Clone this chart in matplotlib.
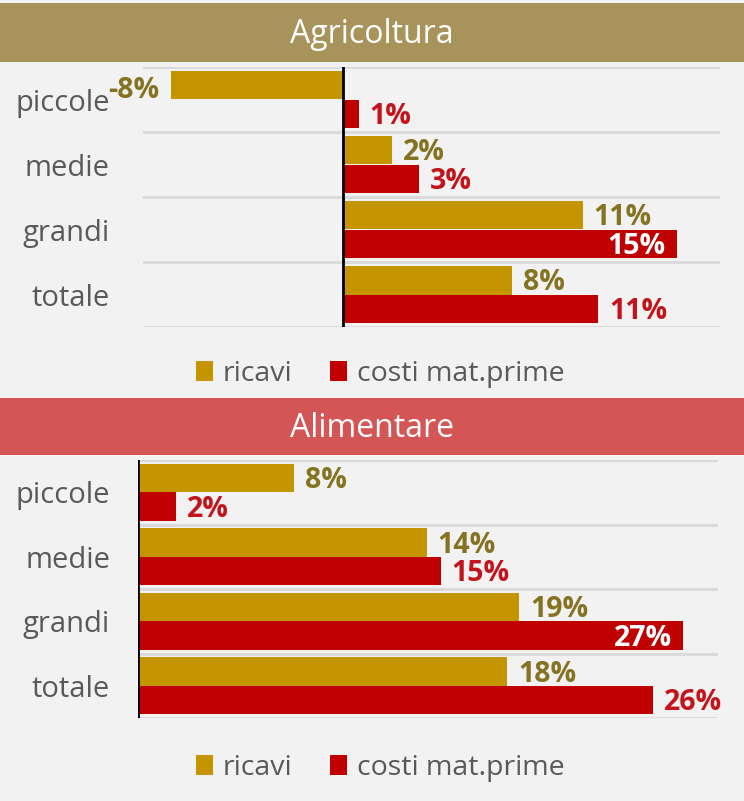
import matplotlib
matplotlib.use('Agg')
import matplotlib.pyplot as plt
from matplotlib.patches import Rectangle, Patch

plt.rcParams['font.family'] = ['Open Sans', 'DejaVu Sans']

categories = ['piccole', 'medie', 'grandi', 'totale']
series_names = ['ricavi', 'costi mat.prime']

agri_ricavi = [-7.7, 2.2, 10.7, 7.55]
agri_costi = [0.7, 3.4, 14.9, 11.4]

alim_ricavi = [7.8, 14.4, 19.0, 18.4]
alim_costi = [1.9, 15.1, 27.2, 25.7]

BG = '#F2F2F2'
GOLD_BAR = '#C59500'
RED_BAR = '#C00000'
GOLD_TXT = '#857322'
RED_TXT = '#C3141C'
GRAY_TXT = '#595959'
GRID = '#D9D9D9'

W, H = 744, 801
fig = plt.figure(figsize=(W / 100, H / 100), dpi=100, facecolor=BG)


def px_box(x0, y0, x1, y1):
    # pixel box (top-left origin) -> figure fraction [l, b, w, h]
    return [x0 / W, 1 - y1 / H, (x1 - x0) / W, (y1 - y0) / H]


def band(y0, y1, color, title):
    l, b, w, h = px_box(0, y0, W, y1)
    fig.patches.append(Rectangle((l, b), w, h, transform=fig.transFigure,
                                 facecolor=color, edgecolor='none', zorder=0))
    fig.text(0.5, b + h / 2 - 2 / H, title, color='white', fontsize=23,
             ha='center', va='center')


def draw_panel(ax, ricavi, costi, xlim, label_pad):
    ax.set_facecolor(BG)
    ax.set_xlim(*xlim)
    ax.set_ylim(3.5, -0.5)
    ys = list(range(len(categories)))
    h = 0.44
    ax.barh([y - h / 2 for y in ys], ricavi, height=h, color=GOLD_BAR, zorder=2)
    ax.barh([y + h / 2 for y in ys], costi, height=h, color=RED_BAR, zorder=2)

    for g in [-0.5, 0.5, 1.5, 2.5, 3.5]:
        ax.axhline(g, color=GRID, lw=2, zorder=1)
    ax.axvline(0, color='black', lw=2, zorder=3)

    ax.set_yticks(ys)
    ax.set_yticklabels(categories, fontsize=21, color=GRAY_TXT)
    ax.tick_params(axis='y', length=0, pad=label_pad)
    ax.set_xticks([])
    for s in ax.spines.values():
        s.set_visible(False)

    right_px = ax.transData.transform((xlim[1], 0))[0]
    for vals, off, txt_color in [(ricavi, -h / 2, GOLD_TXT), (costi, h / 2, RED_TXT)]:
        for y, v in zip(ys, vals):
            lab = f'{v:.0f}%'
            end_px = ax.transData.transform((v, 0))[0]
            if v < 0:
                ax.annotate(lab, (v, y + off), xytext=(-8, -4), textcoords='offset points',
                            ha='right', va='center', fontsize=20.5, fontweight='bold',
                            color=txt_color)
            elif right_px - end_px < 50:
                ax.annotate(lab, (v, y + off), xytext=(-8, -2), textcoords='offset points',
                            ha='right', va='center', fontsize=20.5, fontweight='bold',
                            color='white', zorder=4)
            else:
                ax.annotate(lab, (v, y + off), xytext=(8, -2), textcoords='offset points',
                            ha='left', va='center', fontsize=20.5, fontweight='bold',
                            color=txt_color)


def legend_at(y_px):
    handles = [Patch(facecolor=GOLD_BAR, edgecolor='none', label=series_names[0]),
               Patch(facecolor=RED_BAR, edgecolor='none', label=series_names[1])]
    leg = fig.legend(handles=handles, loc='center', bbox_to_anchor=(380 / W, 1 - y_px / H),
                     ncol=2, frameon=False, fontsize=20.5, handlelength=0.6,
                     handleheight=0.75, handletextpad=0.35, columnspacing=1.3)
    for t in leg.get_texts():
        t.set_color(GRAY_TXT)


# Agricoltura
band(3, 62, '#A8935A', 'Agricoltura')
ax_top = fig.add_axes(px_box(143, 67, 720, 327))
draw_panel(ax_top, agri_ricavi, agri_costi, (-8.93, 16.83), 24)
legend_at(374)

# Alimentare
band(398, 455, '#D35555', 'Alimentare')
ax_bot = fig.add_axes(px_box(138, 460, 718, 718))
draw_panel(ax_bot, alim_ricavi, alim_costi, (0, 28.93), 20)
legend_at(768)

fig.savefig('out.png', dpi=100, facecolor=BG)
